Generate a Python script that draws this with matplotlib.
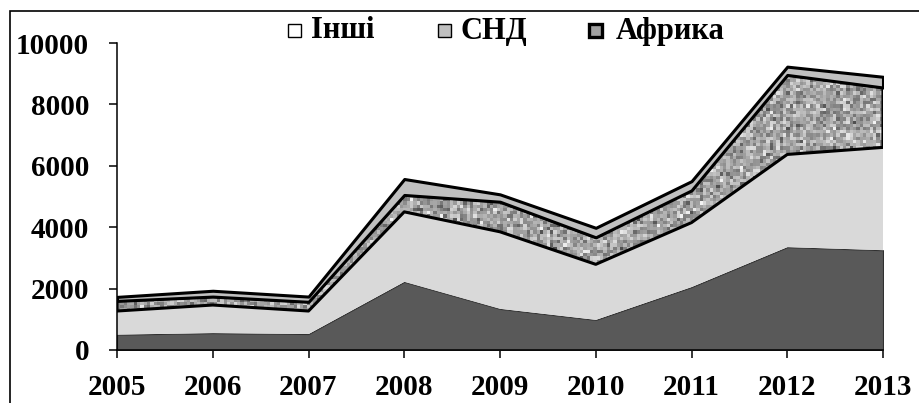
import numpy as np
import matplotlib.pyplot as plt
from matplotlib.patches import Rectangle

# values (stacked layers, bottom to top)
years = [2005, 2006, 2007, 2008, 2009, 2010, 2011, 2012, 2013]
layer_dark = [500, 550, 520, 2220, 1340, 980, 2050, 3350, 3250]
layer_light = [770, 915, 750, 2280, 2510, 1810, 2100, 3020, 3350]
africa = [330, 275, 300, 550, 980, 880, 1050, 2590, 1950]
cis = [130, 190, 170, 520, 240, 310, 300, 270, 350]
legend_labels = ['Інші', 'СНД', 'Африка']
yticks = [0, 2000, 4000, 6000, 8000, 10000]

plt.rcParams['font.family'] = ['Liberation Serif', 'DejaVu Serif']
plt.rcParams['font.weight'] = 'bold'

fig = plt.figure(figsize=(9.2, 4.03), dpi=100)
ax = fig.add_axes([117 / 920, 53 / 403, 766 / 920, 307 / 403])

x = np.array(years)
c1 = np.array(layer_dark)
c2 = c1 + np.array(layer_light)
c3 = c2 + np.array(africa)
c4 = c3 + np.array(cis)

ax.fill_between(x, 0, c1, facecolor='#595959', edgecolor='#303030', lw=0.8, zorder=2)
ax.fill_between(x, c1, c2, facecolor='#d9d9d9', edgecolor='none', zorder=2)

# speckled texture for Африка
rng = np.random.default_rng(7)
noise = np.clip(rng.normal(0.64, 0.13, (95, 230)), 0.3, 0.95)
im = ax.imshow(noise, cmap='gray', vmin=0, vmax=1, extent=[2005, 2013, 0, 10000],
               aspect='auto', interpolation='nearest', zorder=2.5, origin='lower')
afr = ax.fill_between(x, c2, c3, facecolor='none', edgecolor='black', lw=2.2, zorder=3)
im.set_clip_path(afr.get_paths()[0], transform=ax.transData)

ax.fill_between(x, c3, c4, facecolor='#c0c0c0', edgecolor='black', lw=2.2, zorder=3)

ax.set_xlim(2005, 2013)
ax.set_ylim(0, 10000)
ax.set_xticks(years)
ax.set_yticks(yticks)
ax.set_xticklabels([str(y) for y in years], fontsize=21, fontweight='bold')
ax.set_yticklabels([str(v) for v in yticks], fontsize=21, fontweight='bold')
ax.tick_params(axis='x', direction='out', length=6, width=1.1, pad=11)
ax.tick_params(axis='y', direction='out', length=6, width=1.1, pad=14)
for s in ['top', 'right']:
    ax.spines[s].set_visible(False)
for s in ['left', 'bottom']:
    ax.spines[s].set_linewidth(1.1)
    ax.spines[s].set_zorder(4)

# legend drawn by hand to match the layout
W, H = 920, 403
box_styles = [('white', 'black', 1.0), ('#c0c0c0', 'black', 1.0), ('#a0a0a0', 'black', 2.4)]
box_x = [288, 438, 589]
text_x = [311, 461, 616]
for lab, bx, tx, (fc, ec, lw) in zip(legend_labels, box_x, text_x, box_styles):
    fig.patches.append(Rectangle((bx / W, 1 - 37 / H), 13 / W, 13 / H, transform=fig.transFigure,
                                 facecolor=fc, edgecolor=ec, lw=lw))
    fig.text(tx / W, 1 - 31 / H, lab, fontsize=22, fontweight='bold', va='center', ha='left')

# outer frame of the chart
fig.patches.append(Rectangle((10 / W, -0.1), 1.2, 1.1 - 10.5 / H, transform=fig.transFigure,
                             facecolor='none', edgecolor='black', lw=1.2))

fig.savefig('out.png', dpi=100)
